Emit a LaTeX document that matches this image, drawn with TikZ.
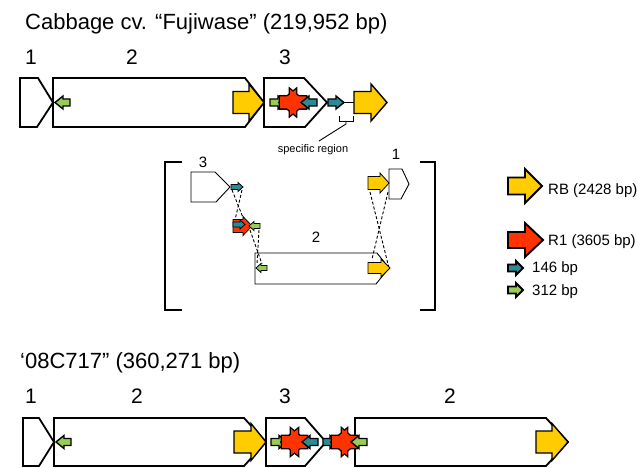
\documentclass[tikz,border=0pt]{standalone}
\usepackage{fontspec}
\setmainfont{Liberation Sans}
\definecolor{ryel}{HTML}{FFCC00}
\definecolor{rred}{HTML}{FF3300}
\definecolor{rteal}{HTML}{2A8A96}
\definecolor{rgrn}{HTML}{99CC55}
% block arrow: style, tail x, tip x, y, shaft half, head half, head length (signed)
\newcommand\garrow[7]{%
  \path[#1] (#2,{#4-#5}) -- ({#3-(#7)},{#4-#5}) -- ({#3-(#7)},{#4-#6}) -- (#3,#4)
    -- ({#3-(#7)},{#4+#6}) -- ({#3-(#7)},{#4+#5}) -- (#2,{#4+#5}) -- cycle;}
% pair of opposite red arrows: left tip, right tip, y, shaft half, head half, head length
\newcommand\redpair[6]{%
  \garrow{draw=black,line width=2.8pt}{#2}{#1}{#3}{#4}{#5}{-#6}%
  \garrow{draw=black,line width=2.8pt}{#1}{#2}{#3}{#4}{#5}{#6}%
  \garrow{fill=rred}{#2}{#1}{#3}{#4}{#5}{-#6}%
  \garrow{fill=rred}{#1}{#2}{#3}{#4}{#5}{#6}}
\begin{document}
\begin{tikzpicture}[x=1pt,y=-1pt,
  gbox/.style={draw=black,line width=1.8pt,fill=white},
  ibox/.style={draw=black,line width=0.9pt,fill=white},
  ar/.style={draw=black,line width=1.4pt,fill=#1},
  lg/.style={draw=black,line width=1.9pt,fill=#1},
  sm/.style={draw=black,line width=0.8pt,fill=#1},
  ttl/.style={inner sep=0pt,font=\fontsize{22}{26}\selectfont},
  lbl/.style={inner sep=0pt,font=\fontsize{21}{25}\selectfont},
  ilbl/.style={inner sep=0pt,font=\fontsize{15}{18}\selectfont},
  ltxt/.style={inner sep=0pt,anchor=west,font=\fontsize{15}{18}\selectfont},
  dsh/.style={draw=black,line width=0.9pt,dash pattern=on 3pt off 2pt}]
\useasboundingbox[fill=white] (0,0) rectangle (638,468);

% ---------- top: Fujiwase ----------
\node[ttl,anchor=base west] (t1) at (25,30) {Cabbage cv. “Fujiwase” (219,952 bp)};
\node[lbl,anchor=base] (a1) at (31,65) {1};
\node[lbl,anchor=base] (a2) at (132,65) {2};
\node[lbl,anchor=base] (a3) at (285,65) {3};

\path[gbox] (20,78) -- (38,78) -- (53,102.5) -- (37,127) -- (20,127) -- cycle;
\path[gbox] (53,78) -- (245,78) -- (264,102.5) -- (245,127) -- (53,127) -- cycle;
\path[gbox] (264,78) -- (304,78) -- (327,102.5) -- (305,127) -- (264,127) -- cycle;

\garrow{ar=rgrn}{70}{55}{102.5}{3.5}{6.5}{-8}
\garrow{ar=ryel}{233}{264}{102.5}{11}{18.5}{15}
\garrow{ar=rgrn}{270}{286}{102.5}{3.5}{6.5}{8}
\redpair{280}{306}{102.5}{6}{13}{16}
\garrow{ar=rteal}{317}{301}{102.5}{3.5}{6.5}{-8}
\garrow{ar=rteal}{328}{344}{102.5}{3.5}{6.5}{8}
\coordinate (sr1) at (344,102.5);
\coordinate (sr2) at (354,102.5);
\draw[line width=0.9pt] (sr1) -- (sr2);
\garrow{ar=ryel}{354}{387}{102.5}{11}{18.5}{16}

\draw[line width=0.9pt] (339,116) -- (339,121) -- (353,121) -- (353,116);
\coordinate (br) at (346,121);
\node[inner sep=0pt,anchor=base,font=\fontsize{11}{13}\selectfont] (spec) at (313,153) {specific region};
\draw[line width=0.9pt] (br) -- ++(0,3) -- (319,141);

% ---------- inset ----------
\draw[line width=2pt] (182,162) -- (165,162) -- (165,310) -- (182,310);
\draw[line width=2pt] (420,162) -- (435,162) -- (435,310) -- (420,310);

\node[ilbl,anchor=base] (b3) at (203,168) {3};
\node[ilbl,anchor=base] (b1) at (396,160) {1};
\node[ilbl,anchor=base] (b2) at (316,243) {2};

\path[ibox] (191,172) -- (215,172) -- (230,187) -- (216,202) -- (191,202) -- cycle;
\path[ibox] (389,169) -- (402,169) -- (409,184) -- (401,199) -- (389,199) -- cycle;
\path[ibox] (255,253) -- (377,253) -- (389,268) -- (376,284) -- (255,284) -- cycle;

\coordinate (ta) at (232,190); \coordinate (tb) at (242,190);
\coordinate (ra) at (244,220); \coordinate (rb) at (235,220);
\coordinate (ga) at (250,230); \coordinate (gb) at (259,230);
\coordinate (gc) at (262,264); \coordinate (gd) at (257,264);
\coordinate (ya) at (370,192); \coordinate (yb) at (388,192);
\coordinate (yc) at (389,268); \coordinate (yd) at (372,259);
\draw[dsh] (ta) -- (ra); \draw[dsh] (tb) -- (rb);
\draw[dsh] (ga) -- (gc); \draw[dsh] (gb) -- (gd);
\draw[dsh] (ya) -- (yc); \draw[dsh] (yb) -- (yd);

\garrow{sm=rteal}{231}{243}{187}{2.5}{4.5}{5}
\garrow{sm=rred}{233}{252}{226}{6.5}{9.5}{9}
\garrow{sm=rteal}{233}{245}{224.5}{2.5}{4.5}{5}
\garrow{sm=rgrn}{260}{249}{226}{2.5}{4.5}{-5}
\garrow{sm=rgrn}{267}{256}{268}{2.5}{4.5}{-5}
\garrow{sm=ryel}{368}{389}{183}{6.5}{10}{9}
\garrow{sm=ryel}{368}{390}{268}{5.5}{9}{9}

% ---------- legend ----------
\garrow{lg=ryel}{508}{542}{186}{8.5}{17}{17}
\node[ltxt] (lrb) at (548,191) {RB (2428 bp)};
\garrow{lg=rred}{508}{543}{240}{8}{17}{18}
\node[ltxt] (lr1) at (548,242) {R1 (3605 bp)};
\garrow{lg=rteal}{508}{523}{268}{3.5}{7}{7}
\node[ltxt] (l146) at (532,269) {146 bp};
\garrow{lg=rgrn}{508}{523}{290}{3.5}{7}{7}
\node[ltxt] (l312) at (532,292) {312 bp};

% ---------- bottom: 08C717 ----------
\node[ttl,anchor=base west] (t2) at (20,368) {‘08C717” (360,271 bp)};
\node[lbl,anchor=base] (c1) at (31,403) {1};
\node[lbl,anchor=base] (c2) at (137,403) {2};
\node[lbl,anchor=base] (c3) at (285,403) {3};
\node[lbl,anchor=base] (c4) at (450,403) {2};

\path[gbox] (23,418) -- (39,418) -- (54,442) -- (39,466) -- (23,466) -- cycle;
\path[gbox] (54,418) -- (244,418) -- (266,442) -- (244,466) -- (54,466) -- cycle;
\path[gbox] (266,418) -- (305,418) -- (326,442) -- (305,466) -- (266,466) -- cycle;
\path[gbox] (355,418) -- (546,418) -- (568,442) -- (546,466) -- (355,466) -- cycle;

\garrow{ar=rgrn}{71}{56}{442}{3.5}{6.5}{-8}
\garrow{ar=ryel}{234}{266}{442}{11}{18.5}{15}
\garrow{ar=rgrn}{271}{287}{442}{3.5}{6.5}{8}
\redpair{282}{307}{442}{6}{13}{16}
\garrow{ar=rteal}{318}{302}{442}{3.5}{6.5}{-8}
\garrow{ar=rteal}{323}{338}{442}{3.5}{6.5}{8}
\redpair{332}{357}{442}{6}{13}{15}
\garrow{ar=rgrn}{367}{351}{442}{3.5}{6.5}{-8}
\garrow{ar=ryel}{536}{568}{442}{11}{18.5}{16}
\end{tikzpicture}
\end{document}
